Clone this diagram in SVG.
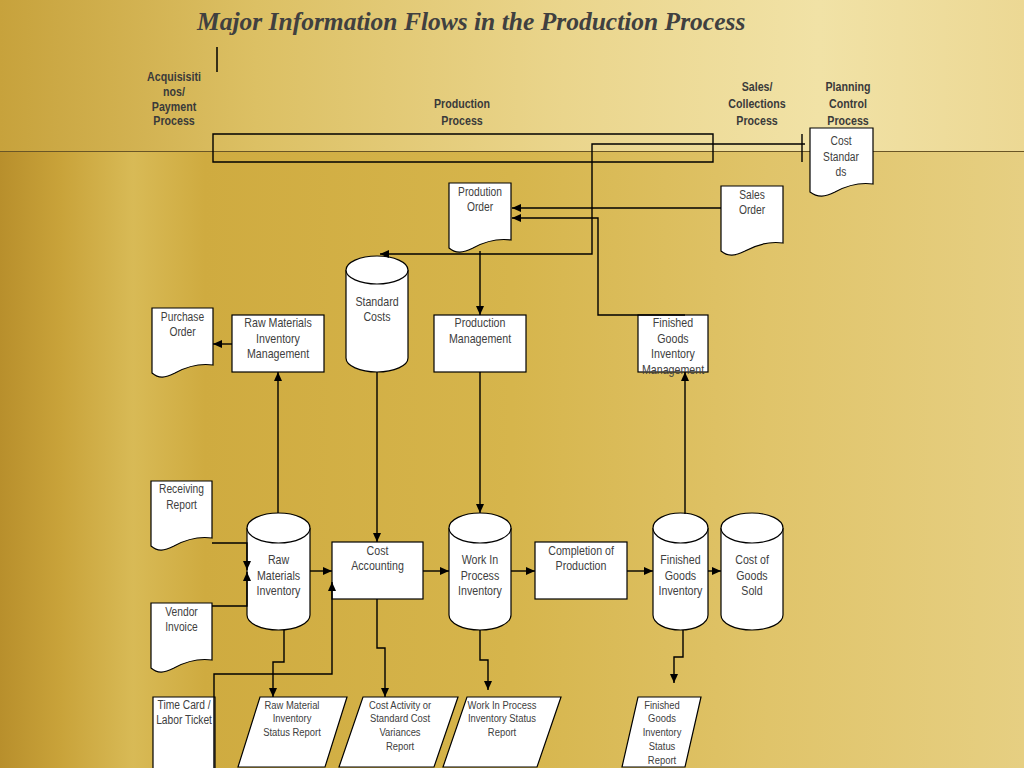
<svg xmlns="http://www.w3.org/2000/svg" width="1024" height="768" viewBox="0 0 1024 768">
<defs>
  <linearGradient id="bgTop" x1="0" y1="0" x2="1" y2="0">
    <stop offset="0" stop-color="#c7a23c"/>
    <stop offset="0.25" stop-color="#dcc064"/>
    <stop offset="0.55" stop-color="#ead58c"/>
    <stop offset="0.8" stop-color="#f1e2a6"/>
    <stop offset="1" stop-color="#ecd894"/>
  </linearGradient>
  <linearGradient id="bgBot" x1="0" y1="0" x2="1" y2="0">
    <stop offset="0" stop-color="#b88f2c"/>
    <stop offset="0.06" stop-color="#c9a33a"/>
    <stop offset="0.13" stop-color="#d8ba56"/>
    <stop offset="0.2" stop-color="#cfab40"/>
    <stop offset="0.5" stop-color="#d6b54c"/>
    <stop offset="0.75" stop-color="#e0c46a"/>
    <stop offset="1" stop-color="#e6cf82"/>
  </linearGradient>
  <marker id="ah" markerUnits="userSpaceOnUse" markerWidth="10" markerHeight="8" refX="9" refY="4" orient="auto">
    <path d="M0,0 L9,4 L0,8 Z" fill="#000"/>
  </marker>
  <style>
    .ln{fill:none;stroke:#000;stroke-width:1.4}
    .ar{fill:none;stroke:#000;stroke-width:1.4;marker-end:url(#ah)}
    .sh{fill:#fff;stroke:#000;stroke-width:1.2}
    .t,.td,.tr,.h{font-family:"Liberation Sans",Arial,sans-serif;fill:#404040;text-anchor:middle;transform-box:fill-box;transform-origin:center;transform:scaleX(0.82)}
    .t{font-size:13px}
    .td{font-size:12.5px}
    .tr{font-size:11.5px}
    .h{font-size:13px;font-weight:bold;fill:#3a3a3a}
    .title{font-family:"Liberation Serif","Times New Roman",serif;font-size:25.5px;font-weight:bold;font-style:italic;fill:#404040}
  </style>
</defs>

<g id="background">
  <rect x="0" y="0" width="1024" height="768" fill="url(#bgBot)"/>
  <rect x="0" y="0" width="1024" height="151" fill="url(#bgTop)"/>
  <line x1="0" y1="151.5" x2="1024" y2="151.5" stroke="#6a5626" stroke-width="1"/>
</g>

<text class="title" x="197" y="30">Major Information Flows in the Production Process</text>
<line x1="217" y1="47" x2="217" y2="72" stroke="#000" stroke-width="1.5"/>

<g id="headers">
  <text class="h" x="174" y="81">Acquisisiti</text>
  <text class="h" x="174" y="96">nos/</text>
  <text class="h" x="174" y="111">Payment</text>
  <text class="h" x="174" y="125">Process</text>
  <text class="h" x="462" y="108">Production</text>
  <text class="h" x="462" y="125">Process</text>
  <text class="h" x="757" y="91">Sales/</text>
  <text class="h" x="757" y="108">Collections</text>
  <text class="h" x="757" y="125">Process</text>
  <text class="h" x="848" y="91">Planning</text>
  <text class="h" x="848" y="108">Control</text>
  <text class="h" x="848" y="125">Process</text>
</g>

<g id="cost-standards">
  <path class="sh" d="M810,128 H873 V184 C858,182 846,186 835,192 C825,197 818,198 810,192 Z"/>
  <text class="td" x="841" y="145.5">Cost</text>
  <text class="td" x="841" y="161.5">Standar</text>
  <text class="td" x="841" y="176.5">ds</text>
</g>

<g id="sales-order">
  <path class="sh" d="M721,186 H783 V243 C768,241 756,245 745,251 C735,256 728,257 721,251 Z"/>
  <text class="td" x="752" y="199.5">Sales</text>
  <text class="td" x="752" y="214.5">Order</text>
</g>

<g id="production-order">
  <path class="sh" d="M449,183 H511 V240 C496,238 484,242 473,248 C463,253 456,254 449,248 Z"/>
  <text class="td" x="480" y="196.5">Prodution</text>
  <text class="td" x="480" y="211.5">Order</text>
</g>

<g id="standard-costs">
  <path class="sh" d="M346,270 A31,14 0 0 1 408,270 V358 A31,14 0 0 1 346,358 Z"/>
  <path class="sh" d="M346,270 A31,14 0 0 0 408,270" fill="none"/>
  <text class="t" x="377" y="306">Standard</text>
  <text class="t" x="377" y="321.5">Costs</text>
</g>

<g id="purchase-order">
  <path class="sh" d="M152,308 H213 V365 C198,363 186,367 175,373 C165,378 159,379 152,373 Z"/>
  <text class="td" x="182.5" y="321">Purchase</text>
  <text class="td" x="182.5" y="336">Order</text>
</g>

<g id="raw-materials-inventory-management">
  <rect class="sh" x="232" y="315" width="92" height="57"/>
  <text class="t" x="278" y="327.5">Raw Materials</text>
  <text class="t" x="278" y="343">Inventory</text>
  <text class="t" x="278" y="358.5">Management</text>
</g>

<g id="production-management">
  <rect class="sh" x="434" y="315" width="92" height="57"/>
  <text class="t" x="480" y="327.5">Production</text>
  <text class="t" x="480" y="343">Management</text>
</g>

<g id="finished-goods-inventory-management">
  <rect class="sh" x="638" y="315" width="70" height="57"/>
  <text class="t" x="673" y="327.5">Finished</text>
  <text class="t" x="673" y="343">Goods</text>
  <text class="t" x="673" y="358.5">Inventory</text>
  <text class="t" x="673" y="374">Management</text>
</g>

<g id="receiving-report">
  <path class="sh" d="M151,481 H212 V538 C197,536 185,540 174,546 C164,551 158,552 151,546 Z"/>
  <text class="td" x="181.5" y="493.5">Receiving</text>
  <text class="td" x="181.5" y="509">Report</text>
</g>

<g id="vendor-invoice">
  <path class="sh" d="M151,603 H212 V660 C197,658 185,662 174,668 C164,673 158,674 151,668 Z"/>
  <text class="td" x="181.5" y="616">Vendor</text>
  <text class="td" x="181.5" y="631.5">Invoice</text>
</g>

<g id="time-card">
  <path class="sh" d="M153,697 H215 V775 H153 Z"/>
  <text class="td" x="184" y="709.5">Time Card /</text>
  <text class="td" x="184" y="724.5">Labor Ticket</text>
</g>

<g id="raw-materials-inventory">
  <path class="sh" d="M247,528 A31.5,15 0 0 1 310,528 V615 A31.5,15 0 0 1 247,615 Z"/>
  <path class="sh" d="M247,528 A31.5,15 0 0 0 310,528" fill="none"/>
  <text class="t" x="278.5" y="564.5">Raw</text>
  <text class="t" x="278.5" y="580.5">Materials</text>
  <text class="t" x="278.5" y="595.5">Inventory</text>
</g>

<g id="cost-accounting">
  <rect class="sh" x="332" y="542" width="91" height="57"/>
  <text class="t" x="377.5" y="555.5">Cost</text>
  <text class="t" x="377.5" y="570.5">Accounting</text>
</g>

<g id="work-in-process-inventory">
  <path class="sh" d="M449,528 A31,15 0 0 1 511,528 V615 A31,15 0 0 1 449,615 Z"/>
  <path class="sh" d="M449,528 A31,15 0 0 0 511,528" fill="none"/>
  <text class="t" x="480" y="564.5">Work In</text>
  <text class="t" x="480" y="580.5">Process</text>
  <text class="t" x="480" y="595.5">Inventory</text>
</g>

<g id="completion-of-production">
  <rect class="sh" x="535" y="542" width="92" height="57"/>
  <text class="t" x="581" y="555.5">Completion of</text>
  <text class="t" x="581" y="570.5">Production</text>
</g>

<g id="finished-goods-inventory">
  <path class="sh" d="M653,528 A27.5,15 0 0 1 708,528 V615 A27.5,15 0 0 1 653,615 Z"/>
  <path class="sh" d="M653,528 A27.5,15 0 0 0 708,528" fill="none"/>
  <text class="t" x="680.5" y="564.5">Finished</text>
  <text class="t" x="680.5" y="580.5">Goods</text>
  <text class="t" x="680.5" y="595.5">Inventory</text>
</g>

<g id="cost-of-goods-sold">
  <path class="sh" d="M721,528 A31,15 0 0 1 783,528 V615 A31,15 0 0 1 721,615 Z"/>
  <path class="sh" d="M721,528 A31,15 0 0 0 783,528" fill="none"/>
  <text class="t" x="752" y="564.5">Cost of</text>
  <text class="t" x="752" y="580.5">Goods</text>
  <text class="t" x="752" y="595.5">Sold</text>
</g>

<g id="raw-material-inventory-status-report">
  <path class="sh" d="M260,697 H347 L325,767 H238 Z"/>
  <text class="tr" x="292" y="709">Raw Material</text>
  <text class="tr" x="292" y="722.5">Inventory</text>
  <text class="tr" x="292" y="736">Status Report</text>
</g>

<g id="cost-activity-report">
  <path class="sh" d="M363,697 H458 L434,767 H339 Z"/>
  <text class="tr" x="400" y="709">Cost Activity or</text>
  <text class="tr" x="400" y="722.5">Standard Cost</text>
  <text class="tr" x="400" y="736">Variances</text>
  <text class="tr" x="400" y="750">Report</text>
</g>

<g id="wip-inventory-status-report">
  <path class="sh" d="M467,697 H561 L537,767 H443 Z"/>
  <text class="tr" x="502" y="709">Work In Process</text>
  <text class="tr" x="502" y="722.5">Inventory Status</text>
  <text class="tr" x="502" y="736">Report</text>
</g>

<g id="fg-inventory-status-report">
  <path class="sh" d="M638,697 H701 L685,767 H622 Z"/>
  <text class="tr" x="662" y="709">Finished</text>
  <text class="tr" x="662" y="722.5">Goods</text>
  <text class="tr" x="662" y="736">Inventory</text>
  <text class="tr" x="662" y="750">Status</text>
  <text class="tr" x="662" y="764">Report</text>
</g>

<g id="connectors">
  <path class="ln" d="M213,134 H713 V162 H213 Z"/>
  <path class="ln" d="M802,134 V162"/>
  <path class="ar" d="M805,144 H592 V254 H380"/>
  <path class="ar" d="M721,208 H512"/>
  <path class="ar" d="M685,315 H598 V218 H512"/>
  <path class="ar" d="M480,251 V315"/>
  <path class="ar" d="M232,344 H213"/>
  <path class="ar" d="M278,513 V372"/>
  <path class="ar" d="M377,372 V542"/>
  <path class="ar" d="M480,372 V513"/>
  <path class="ar" d="M685,514 V372"/>
  <path class="ar" d="M212,543 H247 V570"/>
  <path class="ar" d="M212,606 H247 V572"/>
  <path class="ar" d="M214,768 V674 H332 V582"/>
  <path class="ar" d="M310,571 H332"/>
  <path class="ar" d="M423,571 H449"/>
  <path class="ar" d="M511,571 H535"/>
  <path class="ar" d="M627,571 H653"/>
  <path class="ar" d="M708,571 H721"/>
  <path class="ar" d="M284,630 V662 H273 V697"/>
  <path class="ar" d="M377,599 V648 H385 V697"/>
  <path class="ar" d="M480,630 V660 H488 V690"/>
  <path class="ar" d="M683,630 V657 H674 V683"/>
</g>
</svg>
